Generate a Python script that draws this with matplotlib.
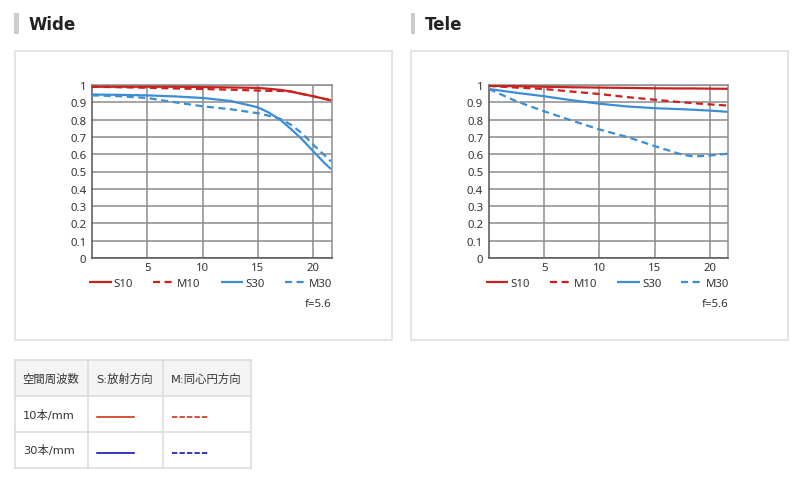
import matplotlib
matplotlib.use("Agg")
import matplotlib.pyplot as plt
from matplotlib.patches import Rectangle
from matplotlib.lines import Line2D

# ---------------- data ----------------
wide_x = [0, 2.5, 5, 7.5, 10, 12.5, 15, 16, 17, 18, 19, 20, 21, 21.6]
wide_S10 = [0.99, 0.99, 0.99, 0.99, 0.988, 0.986, 0.983, 0.978, 0.972, 0.962, 0.948, 0.935, 0.92, 0.912]
wide_M10 = [0.99, 0.987, 0.984, 0.98, 0.977, 0.973, 0.968, 0.966, 0.966, 0.962, 0.948, 0.935, 0.92, 0.912]
wide_S30 = [0.945, 0.943, 0.94, 0.934, 0.925, 0.908, 0.871, 0.84, 0.80, 0.745, 0.685, 0.617, 0.55, 0.514]
wide_M30 = [0.94, 0.935, 0.925, 0.90, 0.877, 0.86, 0.837, 0.822, 0.805, 0.77, 0.72, 0.655, 0.595, 0.558]

tele_x = [0, 2.5, 5, 7.5, 10, 12.5, 15, 17.5, 18.5, 20, 21.6]
tele_S10 = [0.995, 0.993, 0.99, 0.987, 0.985, 0.983, 0.981, 0.98, 0.98, 0.979, 0.978]
tele_M10 = [0.995, 0.985, 0.977, 0.962, 0.948, 0.93, 0.915, 0.9, 0.895, 0.888, 0.881]
tele_S30 = [0.977, 0.955, 0.935, 0.912, 0.892, 0.876, 0.866, 0.86, 0.857, 0.852, 0.845]
tele_M30 = [0.977, 0.906, 0.848, 0.795, 0.743, 0.70, 0.647, 0.597, 0.587, 0.592, 0.603]

series_names = ["S10", "M10", "S30", "M30"]
x_ticks = [5, 10, 15, 20]
y_ticks = [0, 0.1, 0.2, 0.3, 0.4, 0.5, 0.6, 0.7, 0.8, 0.9, 1]
y_tick_labels = ["0", "0.1", "0.2", "0.3", "0.4", "0.5", "0.6", "0.7", "0.8", "0.9", "1"]
panel_titles = ["Wide", "Tele"]
aperture_note = "f=5.6"

table_header = ["空間周波数", "S:放射方向", "M:同心円方向"]
table_rows = ["10本/mm", "30本/mm"]

# ---------------- style ----------------
RED = "#c8211e"
BLUE = "#3b8ed6"
GRID = "#8c8c8c"
TXT = "#333333"
W, H = 800, 481

plt.rcParams['font.family'] = ['Noto Sans', 'DejaVu Sans']
fig = plt.figure(figsize=(8, 4.81), dpi=100)
fig.patch.set_facecolor("white")


def fx(px):
    return px / W


def fy(py):
    return 1 - py / H


def draw_panel(box_left, ax_left, title, xs, s10, m10, s30, m30):
    # outer box
    fig.patches.append(Rectangle((fx(box_left), fy(340.7)), fx(377), 289 / H,
                                 transform=fig.transFigure, fill=False,
                                 edgecolor="#e2e2e2", linewidth=1.3))
    # title bar and text
    fig.patches.append(Rectangle((fx(box_left - 0.5), fy(35)), fx(4.5), 21 / H,
                                 transform=fig.transFigure, facecolor="#cccccc",
                                 edgecolor="none"))
    fig.text(fx(box_left + 13.5), fy(25), title, fontsize=12, fontweight="bold",
             color="#222222", va="center", ha="left", family="DejaVu Sans")

    ax = fig.add_axes([fx(ax_left), fy(259), fx(239.5), 173 / H])
    ax.set_xlim(0, 21.65)
    ax.set_ylim(0, 1)
    ax.set_xticks(x_ticks)
    ax.set_yticks(y_ticks)
    ax.set_yticklabels(y_tick_labels)
    ax.tick_params(length=0, labelsize=8.2, colors=TXT, pad=4)
    ax.tick_params(axis="x", pad=3)
    ax.grid(True, color=GRID, linewidth=1.1)
    ax.set_axisbelow(True)
    for side in ["top", "right"]:
        ax.spines[side].set_color(GRID)
        ax.spines[side].set_linewidth(1.1)
    for side in ["left", "bottom"]:
        ax.spines[side].set_color("#555555")
        ax.spines[side].set_linewidth(1.1)

    lw = 1.6
    dash = (0, (3.2, 2.0))
    l1, = ax.plot(xs, s10, color=RED, lw=lw, solid_capstyle="butt", zorder=4)
    l2, = ax.plot(xs, m10, color=RED, lw=lw, linestyle=dash, zorder=3)
    l3, = ax.plot(xs, s30, color=BLUE, lw=lw, solid_capstyle="butt", zorder=3)
    l4, = ax.plot(xs, m30, color=BLUE, lw=lw, linestyle=dash, zorder=3)

    leg = ax.legend([l1, l2, l3, l4], series_names, ncol=4, frameon=False,
                    loc="center left", bbox_to_anchor=(-0.013, -0.145),
                    fontsize=8.2, handlelength=2.0, handletextpad=0.15,
                    columnspacing=1.75, borderaxespad=0, borderpad=0)
    for t in leg.get_texts():
        t.set_color(TXT)
    ax.text(1.0, -0.262, aperture_note, transform=ax.transAxes, ha="right",
            va="center", fontsize=8.2, color=TXT)
    return ax


draw_panel(14.7, 92, panel_titles[0], wide_x, wide_S10, wide_M10, wide_S30, wide_M30)
draw_panel(411, 488.7, panel_titles[1], tele_x, tele_S10, tele_M10, tele_S30, tele_M30)

# ---------------- table ----------------
col_edges = [14.7, 88.3, 163.3, 251]
row_edges = [360.7, 397.3, 433, 469]
BORDER = "#dddddd"
fig.patches.append(Rectangle((fx(col_edges[0]), fy(row_edges[1])),
                             fx(col_edges[-1] - col_edges[0]),
                             (row_edges[1] - row_edges[0]) / H,
                             transform=fig.transFigure, facecolor="#f4f4f4",
                             edgecolor="none"))
for yy in row_edges:
    fig.lines.append(Line2D([fx(col_edges[0]), fx(col_edges[-1])], [fy(yy), fy(yy)],
                            transform=fig.transFigure, color=BORDER, lw=1.2))
for xx in col_edges:
    fig.lines.append(Line2D([fx(xx), fx(xx)], [fy(row_edges[0]), fy(row_edges[-1])],
                            transform=fig.transFigure, color=BORDER, lw=1.2))

mixed = ['DejaVu Sans', 'Noto Sans CJK JP']
for i, h in enumerate(table_header):
    fig.text(fx(col_edges[i] + 8), fy((row_edges[0] + row_edges[1]) / 2), h,
             fontsize=8.2, color=TXT, va="center", ha="left", family=mixed)
for j, r in enumerate(table_rows):
    fig.text(fx(col_edges[0] + 8.5), fy((row_edges[j + 1] + row_edges[j + 2]) / 2), r,
             fontsize=8.2, color=TXT, va="center", ha="left", family=mixed)

key_colors = ["#cc2200", "#0000aa"]
for j, c in enumerate(key_colors):
    yy = fy((row_edges[j + 1] + row_edges[j + 2]) / 2 + 3)
    fig.lines.append(Line2D([fx(96.7), fx(134.3)], [yy, yy], transform=fig.transFigure,
                            color=c, lw=1.1))
    fig.lines.append(Line2D([fx(171.7), fx(208.3)], [yy, yy], transform=fig.transFigure,
                            color=c, lw=1.1, linestyle=(0, (3.5, 1.4))))

fig.savefig("out.png", dpi=100, facecolor="white")
